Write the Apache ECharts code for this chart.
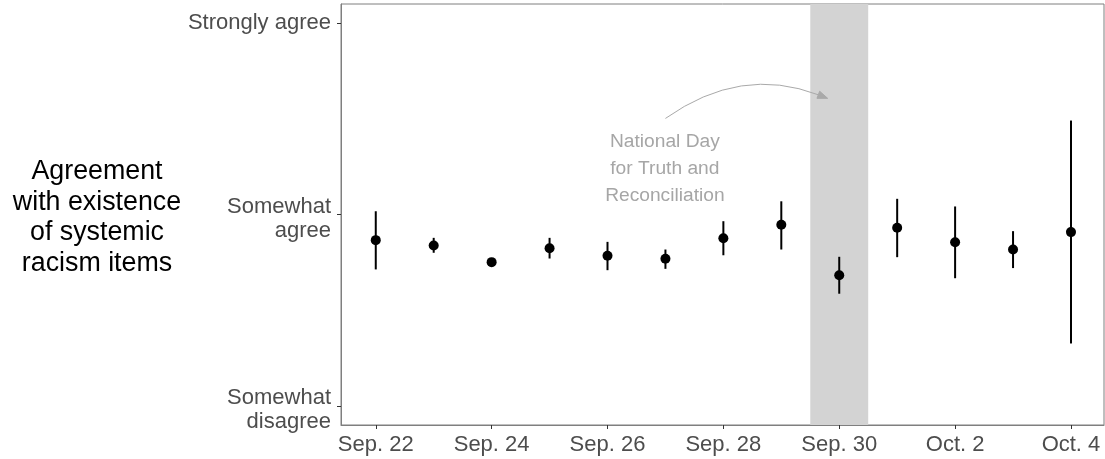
<!DOCTYPE html>
<html>
<head>
<meta charset="utf-8">
<script src="https://cdn.jsdelivr.net/npm/echarts@6/dist/echarts.min.js"></script>
<style>
html,body{margin:0;padding:0;background:#fff;}
#chart{width:1105px;height:459px;}
</style>
</head>
<body>
<div id="chart"></div>
<script>
// Day index 0 = Sep. 22
const days = [0,1,2,3,4,5,6,7,8,9,10,11,12];
const means = [3.866,3.838,3.751,3.824,3.784,3.769,3.876,3.946,3.683,3.931,3.855,3.817,3.908];
const lower = [3.713,3.800,3.734,3.770,3.709,3.716,3.787,3.817,3.586,3.777,3.667,3.720,3.326];
const upper = [4.017,3.878,3.768,3.878,3.857,3.817,3.965,4.069,3.779,4.082,4.042,3.913,4.491];

const xTickValues = [0,2,4,6,8,10,12];
const xTickLabels = ['Sep. 22','Sep. 24','Sep. 26','Sep. 28','Sep. 30','Oct. 2','Oct. 4'];
const yTickValues = [3,4,5];
const yTickLabels = ['Somewhat\ndisagree','Somewhat\nagree','Strongly agree'];

const holidayBand = [7.5, 8.5];
const annotationText = 'National Day\nfor Truth and\nReconciliation';
// annotation anchors in data space
const annTextPos = [4.99, 4.24];
const arrowStart = [5.0, 4.502];
const arrowCtrl = [6.3, 4.78];
const arrowEnd = [7.8, 4.607];

const FONT = "'Liberation Sans', Arial, Helvetica, sans-serif";
const chart = echarts.init(document.getElementById('chart'));

const pointData = days.map((d,i)=>[d, means[i]]);
const barData = days.map((d,i)=>[d, lower[i], upper[i]]);

function yLabelFormatter(v) {
  const txt = yTickLabels[yTickValues.indexOf(v)] || '';
  const lines = txt.split('\n');
  if (lines.length === 1) return '{s|' + lines[0] + '}';
  return '{l1|' + lines[0] + '}\n{l2|' + lines[1] + '}';
}
const labelBase = {fontSize: 22, fontFamily: FONT, color: '#4d4d4d', align: 'right'};

chart.setOption({
  animation: false,
  backgroundColor: '#fff',
  grid: {left: 341, top: 4, right: 1, height: 421, show: true, borderColor: '#7f7f7f', borderWidth: 1, containLabel: false},
  xAxis: {
    type: 'value', min: -0.6, max: 12.57,
    axisLine: {show: true, onZero: false, lineStyle: {color: '#7f7f7f', width: 1}},
    splitLine: {show: false},
    axisTick: {show: true, customValues: xTickValues, length: 4, lineStyle: {color: '#333'}},
    axisLabel: {
      customValues: xTickValues, margin: 9,
      fontSize: 22, fontFamily: FONT, color: '#4d4d4d',
      formatter: v => xTickLabels[xTickValues.indexOf(v)] || ''
    }
  },
  yAxis: {
    type: 'value', min: 2.9, max: 5.1,
    axisLine: {show: true, onZero: false, lineStyle: {color: '#7f7f7f', width: 1}},
    splitLine: {show: false},
    axisTick: {show: true, customValues: yTickValues, length: 4, lineStyle: {color: '#333'}},
    axisLabel: {
      customValues: yTickValues, margin: 10,
      fontSize: 22, fontFamily: FONT, color: '#4d4d4d', align: 'right',
      formatter: yLabelFormatter,
      rich: {
        s: Object.assign({lineHeight: 26}, labelBase),
        l1: Object.assign({lineHeight: 32}, labelBase),
        l2: Object.assign({lineHeight: 16}, labelBase)
      }
    }
  },
  graphic: [{
    type: 'text',
    position: [97, 217.5],
    style: {
      text: 'Agreement\nwith existence\nof systemic\nracism items',
      x: 0, y: 0, align: 'center', verticalAlign: 'middle',
      fontSize: 26.8, fontFamily: FONT, fill: '#000', lineHeight: 30.5
    }
  }],
  series: [
    {
      type: 'scatter', data: [], silent: true,
      markArea: {
        silent: true,
        itemStyle: {color: '#d3d3d3', opacity: 1},
        data: [[{xAxis: holidayBand[0]}, {xAxis: holidayBand[1]}]]
      },
      z: 1
    },
    {
      type: 'custom', silent: true, z: 3,
      data: barData,
      renderItem: (params, api) => {
        const x = api.value(0);
        const p1 = api.coord([x, api.value(1)]);
        const p2 = api.coord([x, api.value(2)]);
        return {type: 'line', shape: {x1: p1[0], y1: p1[1], x2: p2[0], y2: p2[1]},
                style: {stroke: '#000', lineWidth: 2}};
      }
    },
    {
      type: 'scatter', silent: true, z: 4,
      data: pointData, symbol: 'circle', symbolSize: 10,
      itemStyle: {color: '#000', opacity: 1}
    },
    {
      type: 'custom', silent: true, z: 5, clip: false,
      data: [[0]],
      renderItem: (params, api) => {
        const t = api.coord(annTextPos);
        const s = api.coord(arrowStart);
        const c = api.coord(arrowCtrl);
        const e = api.coord(arrowEnd);
        const dx = e[0]-c[0], dy = e[1]-c[1];
        const L = Math.sqrt(dx*dx+dy*dy);
        const ux = dx/L, uy = dy/L;
        const len = 10, hw = 3.8;
        const bx = e[0]-ux*len, by = e[1]-uy*len;
        return {
          type: 'group',
          children: [
            {type: 'text', style: {text: annotationText, x: t[0], y: t[1], align: 'center', verticalAlign: 'middle',
              fontSize: 19.2, fontFamily: FONT, fill: '#a6a6a6', lineHeight: 27}},
            {type: 'bezierCurve', shape: {x1: s[0], y1: s[1], cpx1: c[0], cpy1: c[1], x2: bx, y2: by},
              style: {stroke: '#a9a9a9', lineWidth: 1, fill: null}},
            {type: 'polygon', shape: {points: [[e[0], e[1]], [bx - uy*hw, by + ux*hw], [bx + uy*hw, by - ux*hw]]},
              style: {fill: '#a9a9a9', stroke: '#a9a9a9', lineWidth: 1}}
          ]
        };
      }
    }
  ]
});
</script>
</body>
</html>
